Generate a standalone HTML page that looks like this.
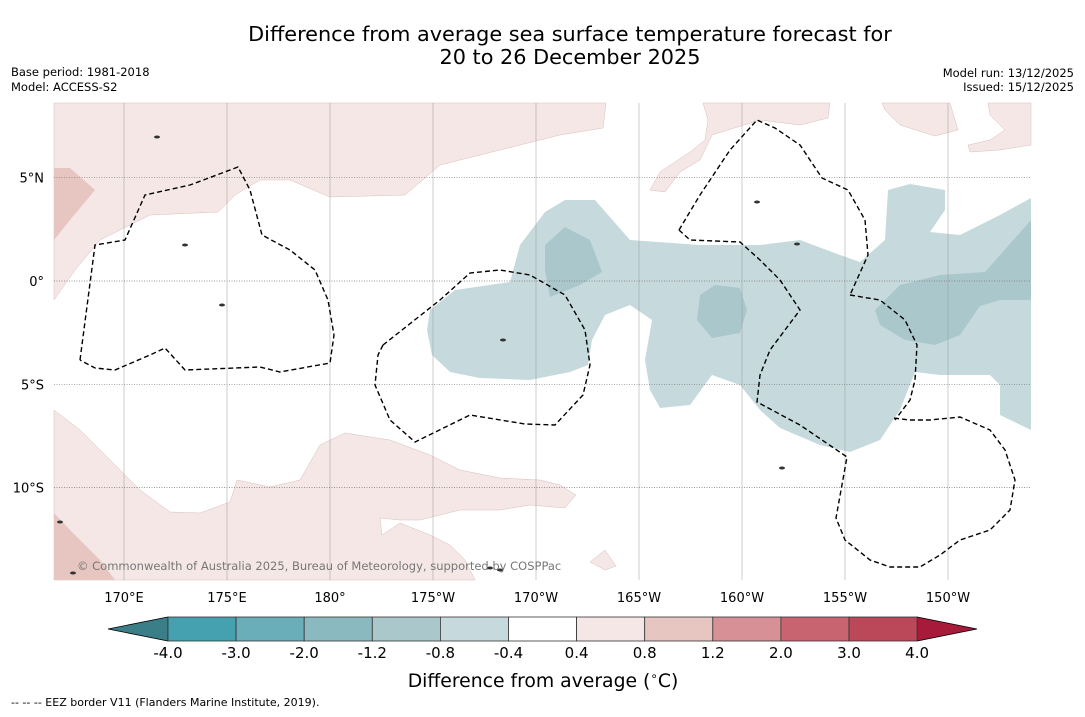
<!DOCTYPE html>
<html><head><meta charset="utf-8">
<style>
html,body{margin:0;padding:0;background:#fff;}
body{width:1085px;height:713px;overflow:hidden;font-family:"DejaVu Sans","Liberation Sans",sans-serif;}
</style></head>
<body>
<svg id="chart" width="1085" height="713" xmlns="http://www.w3.org/2000/svg" font-family="DejaVu Sans, Liberation Sans, sans-serif">
  <text x="570" y="41" font-size="20.8" text-anchor="middle" fill="#000">Difference from average sea surface temperature forecast for</text>
  <text x="570" y="64" font-size="20.8" text-anchor="middle" fill="#000">20 to 26 December 2025</text>
  <text x="11" y="76" font-size="11.5">Base period: 1981-2018</text>
  <text x="11" y="91" font-size="11.5">Model: ACCESS-S2</text>
  <text x="1074" y="77" font-size="11.5" text-anchor="end">Model run: 13/12/2025</text>
  <text x="1074" y="91" font-size="11.5" text-anchor="end">Issued: 15/12/2025</text>
  <g id="map"></g>
  <g id="cbar"></g>
  <text x="543" y="687" font-size="18.8" text-anchor="middle">Difference from average (<tspan font-size="12" dy="-7">∘</tspan><tspan dy="7">C)</tspan></text>
  <text x="11" y="706" font-size="11">--  --  -- EEZ border V11 (Flanders Marine Institute, 2019).</text>
</svg>
<script>
const lonLabels = ["170°E","175°E","180°","175°W","170°W","165°W","160°W","155°W","150°W"];
const lonValues = [170,175,180,185,190,195,200,205,210];
const latLabels = ["5°N","0°","5°S","10°S"];
const latValues = [5,0,-5,-10];
const cbarBounds = [-4.0,-3.0,-2.0,-1.2,-0.8,-0.4,0.4,0.8,1.2,2.0,3.0,4.0];
const cbarColors = ["#45a0b0","#6aaeba","#8bb9c0","#aac7cc","#c6dadd","#ffffff","#f4e7e6","#e7c5c1","#d69096","#c8646f","#bb4858"];
const extendColors = ["#3a7f87","#a81a3a"];

const NS="http://www.w3.org/2000/svg";
const X0=54,X1=1031,Y0=103,Y1=580;
const lonX = lon => 124 + (lon-170)*103.0/5;
const latY = lat => 281 - lat*103.3/5;
function mk(tag,attrs,parent){const e=document.createElementNS(NS,tag);for(const k in attrs)e.setAttribute(k,attrs[k]);parent.appendChild(e);return e;}
const map=document.getElementById('map');

const regions=[
 ["pink-region-north-west","#f4e7e6","54,300 54,103 606,103 603,128 560,135 500,150 440,165 405,195 330,197 290,180 260,180 235,195 218,212 150,215 100,240 75,270"],
 ["pink-region-north-west-warm","#e7c5c1","54,168 70,168 95,190 70,220 54,240"],
 ["pink-region-north-central","#f4e7e6","703,103 830,103 828,118 800,125 760,120 712,135 700,160 680,172 665,192 650,190 660,172 690,152 705,140 708,120"],
 ["pink-region-north-east-1","#f4e7e6","882,103 950,103 958,130 935,136 900,125 885,110"],
 ["pink-region-north-east-2","#f4e7e6","988,103 1031,103 1031,145 1000,150 970,152 968,145 990,140 1005,130 990,115"],
 ["pink-region-south-west","#f4e7e6","54,410 80,430 110,460 140,490 170,512 200,513 230,502 237,480 270,487 300,480 320,445 345,433 390,440 430,455 460,470 500,478 540,480 560,485 576,495 565,508 530,505 500,510 460,510 420,520 400,520 380,518 382,535 400,523 430,535 450,545 465,560 475,580 54,580"],
 ["pink-region-south-west-warm","#e7c5c1","54,513 70,530 100,560 115,580 54,580"],
 ["pink-region-south-small","#f4e7e6","590,562 605,550 616,566 605,570"],
 ["blue-region-equatorial","#c6dadd","430,310 455,290 510,282 520,245 545,212 565,200 595,200 630,240 700,245 760,245 800,240 840,255 860,262 885,240 888,190 910,184 945,190 945,210 930,232 960,235 1000,215 1031,198 1031,430 1000,415 1000,385 990,375 940,375 915,372 900,410 880,440 850,452 820,445 780,428 760,410 740,385 712,375 690,405 660,408 650,390 645,360 652,320 630,305 605,315 592,340 588,365 570,372 530,380 480,378 450,372 432,355 427,330"],
 ["blue-region-cool-1","#aac7cc","545,245 565,227 590,240 602,272 580,285 550,297 545,270"],
 ["blue-region-cool-2","#aac7cc","700,295 715,285 740,288 747,310 740,333 712,338 697,320"],
 ["blue-region-cool-3","#aac7cc","875,310 900,285 940,275 985,272 1031,220 1031,300 1000,300 980,306 960,335 935,345 905,340 880,325"]
];
regions.forEach(r=>{
  const p=mk('polygon',{points:r[2],fill:r[1],stroke:r[1]==="#f4e7e6"?"#d9bfbc":"none","stroke-width":"0.5"},map);
  
  
});

lonValues.forEach((v,i)=>{
  const x=lonX(v);
  const l=mk('line',{x1:x,y1:Y0,x2:x,y2:Y1,stroke:"#999","stroke-width":"0.5"},map);
  
  
  const t=mk('text',{x:x,y:602,"font-size":"13","text-anchor":"middle"},map);
  t.textContent=lonLabels[i];
  
  
});
latValues.forEach((v,i)=>{
  const y=latY(v);
  const l=mk('line',{x1:X0,y1:y,x2:X1,y2:y,stroke:"#777","stroke-width":"0.7","stroke-dasharray":"1,1.5"},map);
  
  
  const t=mk('text',{x:44,y:y+5,"font-size":"13","text-anchor":"end"},map);
  t.textContent=latLabels[i];
  
  
});

const eez=[
 "80,360 95,245 125,240 145,195 190,185 238,167 250,190 262,235 290,250 315,270 328,300 334,335 330,363 280,372 260,367 185,370 165,348 150,355 115,370 95,368 80,360",
 "383,345 440,300 470,273 500,270 530,275 565,295 585,330 590,365 583,395 555,425 525,424 470,415 415,442 390,420 375,385 378,355 383,345",
 "679,230 700,195 730,150 757,120 775,128 800,145 822,178 848,190 865,220 868,255 850,295",
 "679,230 690,240 740,242 760,260 780,280 800,310 770,350 760,375 757,402 800,425 847,457 836,518 845,540 870,560 890,567 920,567 940,555 960,540 990,530 1010,510 1015,480 1005,450 990,430 960,417 930,420 910,420 893,418",
 "850,295 880,300 905,320 917,345 915,380 910,400 895,420"
];
eez.forEach(pts=>{
  const p=mk('polyline',{points:pts,fill:"none",stroke:"#000","stroke-width":"1.4","stroke-dasharray":"5,3"},map);
  
  
});
[[157,137],[185,245],[222,305],[503,340],[797,244],[757,202],[490,568],[500,570],[73,573],[60,522],[782,468]].forEach(c=>{
  const e=mk('ellipse',{cx:c[0],cy:c[1],rx:3,ry:1.5,fill:"#333"},map);
  
  
});
const cp=mk('text',{x:77,y:570,"font-size":"11.5",fill:"#777"},map);
cp.textContent="© Commonwealth of Australia 2025, Bureau of Meteorology, supported by COSPPac";



const cb=document.getElementById('cbar');
const CX0=168,CW=68.1,CY=617,CH=24;
const n=cbarColors.length;
const tri1=mk('polygon',{points:`${CX0},${CY} ${CX0},${CY+CH} 108,${CY+CH/2}`,fill:extendColors[0],stroke:"#000","stroke-width":"0.8"},cb);


const xe=CX0+n*CW;
const tri2=mk('polygon',{points:`${xe},${CY} ${xe},${CY+CH} 977,${CY+CH/2}`,fill:extendColors[1],stroke:"#000","stroke-width":"0.8"},cb);


cbarColors.forEach((c,i)=>{
  const r=mk('rect',{x:CX0+i*CW,y:CY,width:CW,height:CH,fill:c,stroke:"#333","stroke-width":"0.8"},cb);
  
  
});
cbarBounds.forEach((b,i)=>{
  const t=mk('text',{x:CX0+i*CW,y:658,"font-size":"15","text-anchor":"middle"},cb);
  t.textContent=b.toFixed(1);
  
  
});
</script>
</body></html>
